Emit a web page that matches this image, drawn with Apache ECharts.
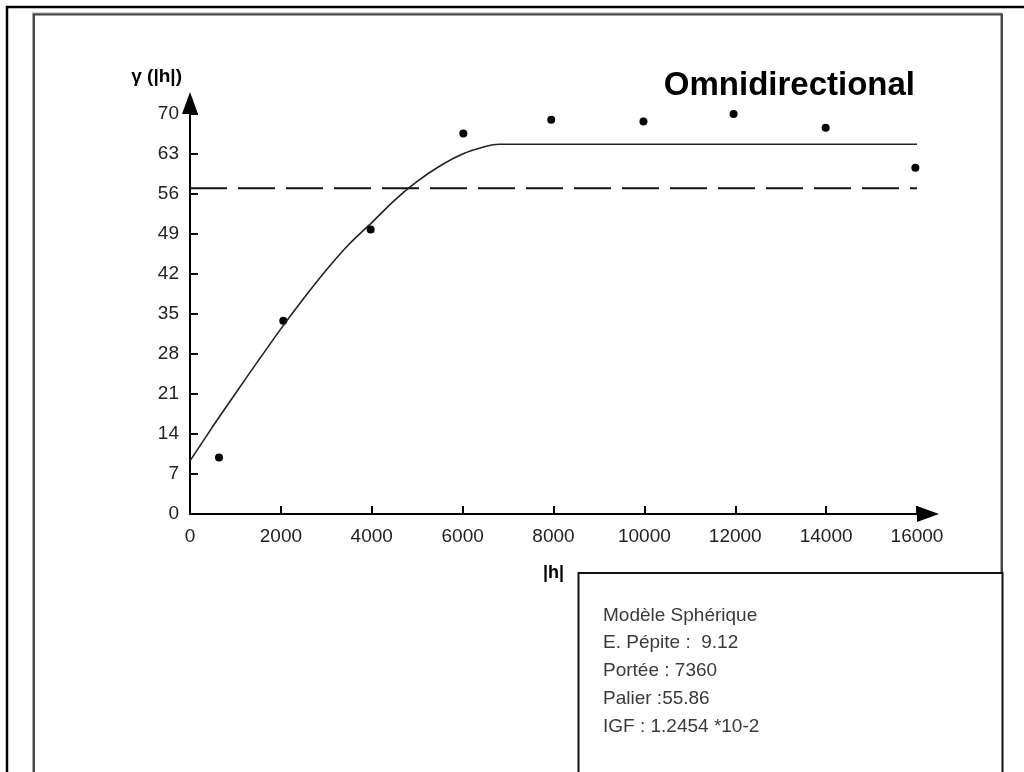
<!DOCTYPE html>
<html>
<head>
<meta charset="utf-8">
<script src="https://cdn.jsdelivr.net/npm/echarts@6/dist/echarts.min.js"></script>
<style>
html,body{margin:0;padding:0;background:#fff;}
#c{width:1024px;height:772px;}
</style>
</head>
<body>
<div id="c"></div>
<script>
// experimental variogram points [|h|, gamma]
const expLag = [638, 2053, 3976, 6015, 7950, 9980, 11963, 13990, 15964];
const expGamma = [9.9, 33.8, 49.8, 66.6, 69.0, 68.7, 70.0, 67.6, 60.6];
// fitted spherical model
const modelLag = [0, 500, 1000, 1500, 2000, 2500, 3000, 3500, 4000, 4500, 5000, 5500, 6000, 6500, 6800, 7500, 16000];
const modelGamma = [9.3, 15.3, 21.1, 26.8, 32.4, 37.7, 42.7, 47.2, 51.0, 54.9, 58.2, 60.9, 63.0, 64.3, 64.7, 64.7, 64.7];
// dashed reference line
const dashLag = [0, 16000];
const dashGamma = [57.0, 57.0];
// axis ticks
const xTicks = [0, 2000, 4000, 6000, 8000, 10000, 12000, 14000, 16000];
const yTicks = [0, 7, 14, 21, 28, 35, 42, 49, 56, 63, 70];
// texts
const titleText = 'Omnidirectional';
const yName = 'γ (|h|)';
const xName = '|h|';
const infoLines = ['Modèle Sphérique', 'E. Pépite :  9.12', 'Portée : 7360', 'Palier :55.86', 'IGF : 1.2454 *10-2'];

const FONT = '"Liberation Sans", Arial, sans-serif';
const chart = echarts.init(document.getElementById('c'), null, {renderer: 'canvas'});

const pairs = (xs, ys) => xs.map((x, i) => [x, ys[i]]);

const infoGraphics = infoLines.map((t, i) => ({
  type: 'text', left: 603, top: 606 + i * 27.7, z: 10,
  style: {text: t, font: '19px ' + FONT, fill: '#3a3a3a'}
}));

chart.setOption({
  backgroundColor: '#ffffff',
  animation: false,
  title: {
    text: titleText, right: 104, top: 64,
    textStyle: {fontFamily: FONT, fontSize: 33, fontWeight: 'bold', color: '#000'}
  },
  grid: {left: 190, right: 107, top: 114, bottom: 258},
  xAxis: {
    type: 'value', min: xTicks[0], max: xTicks[xTicks.length - 1], interval: xTicks[1] - xTicks[0],
    splitLine: {show: false},
    axisLine: {show: true, onZero: false, symbol: ['none', 'triangle'], symbolSize: [16, 22], symbolOffset: [0, 11],
      lineStyle: {color: '#000', width: 2}},
    axisTick: {show: true, inside: true, length: 8, lineStyle: {color: '#000', width: 2}},
    axisLabel: {margin: 13, fontFamily: FONT, fontSize: 19, color: '#222', formatter: v => String(v)},
    name: xName, nameLocation: 'middle', nameGap: 50,
    nameTextStyle: {fontFamily: FONT, fontSize: 18, fontWeight: 'bold', color: '#000'}
  },
  yAxis: {
    type: 'value', min: yTicks[0], max: yTicks[yTicks.length - 1], interval: yTicks[1] - yTicks[0],
    splitLine: {show: false},
    axisLine: {show: true, onZero: false, symbol: ['none', 'triangle'], symbolSize: [16, 22], symbolOffset: [0, 11],
      lineStyle: {color: '#000', width: 2}},
    axisTick: {show: true, inside: true, length: 8, lineStyle: {color: '#000', width: 2}},
    axisLabel: {margin: 11, fontFamily: FONT, fontSize: 19, color: '#222', formatter: v => String(v)},
    name: yName, nameLocation: 'end', nameGap: 28,
    nameTextStyle: {fontFamily: FONT, fontSize: 19, fontWeight: 'bold', color: '#000', align: 'right', padding: [0, 8, 0, 0]}
  },
  series: [
    {
      type: 'line', data: pairs(dashLag, dashGamma), symbol: 'none', silent: true,
      lineStyle: {color: '#111', width: 2, type: [37, 11]}
    },
    {
      type: 'line', data: pairs(modelLag, modelGamma), symbol: 'none', silent: true,
      smooth: 0.25,
      lineStyle: {color: '#222', width: 1.6}
    },
    {
      type: 'scatter', data: pairs(expLag, expGamma), symbol: 'circle', symbolSize: 8,
      itemStyle: {color: '#000', opacity: 1}
    }
  ],
  graphic: [
    {type: 'rect', shape: {x: 7, y: 7, width: 1030, height: 800}, z: -1,
      style: {fill: 'none', stroke: '#000', lineWidth: 2.5}},
    {type: 'rect', shape: {x: 34, y: 14.5, width: 968, height: 800}, z: -1,
      style: {fill: 'none', stroke: '#444', lineWidth: 2, shadowColor: 'rgba(0,0,0,0.35)', shadowOffsetX: -1, shadowOffsetY: -1}},
    {type: 'rect', shape: {x: 578.5, y: 573, width: 424, height: 300}, z: 5,
      style: {fill: '#fff', stroke: '#111', lineWidth: 2}},
    ...infoGraphics
  ]
});
</script>
</body>
</html>
